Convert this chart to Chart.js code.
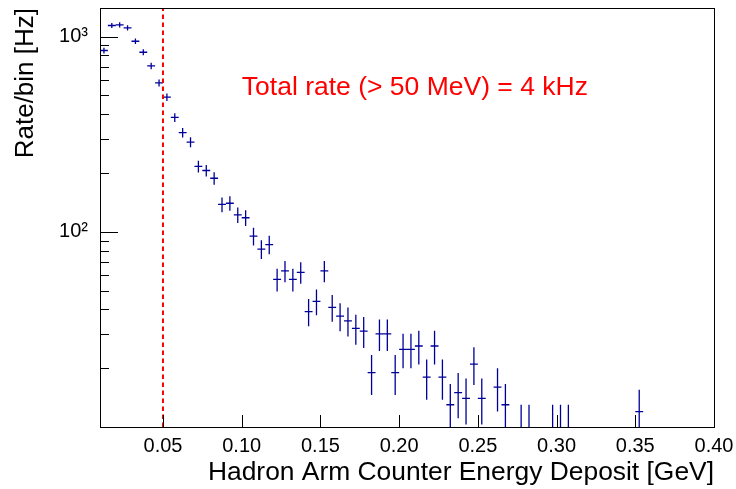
<!DOCTYPE html>
<html>
<head>
<meta charset="utf-8">
<script src="https://cdn.jsdelivr.net/npm/chart.js@4.4.1/dist/chart.umd.min.js"></script>
<style>
  html, body { margin: 0; padding: 0; background: #fff; }
  #wrap { width: 736px; height: 489px; }
</style>
</head>
<body>
<div id="wrap"><canvas id="hist"></canvas></div>
<script>
// bin centres [GeV], bin width 0.005
const binCenters = [
    0.0125, 0.0175, 0.0225, 0.0275, 0.0325, 0.0375, 0.0425, 0.0475,
    0.0525, 0.0575, 0.0625, 0.0675, 0.0725, 0.0775, 0.0825, 0.0875,
    0.0925, 0.0975, 0.1025, 0.1075, 0.1125, 0.1175, 0.1225, 0.1275,
    0.1325, 0.1375, 0.1425, 0.1475, 0.1525, 0.1575, 0.1625, 0.1675,
    0.1725, 0.1775, 0.1825, 0.1875, 0.1925, 0.1975, 0.2025, 0.2075,
    0.2125, 0.2175, 0.2225, 0.2275, 0.2325, 0.2375, 0.2425, 0.2475,
    0.2525, 0.2625, 0.2675, 0.2775, 0.2825, 0.2975, 0.3025, 0.3075,
    0.3525,
];
const rates = [
    848, 1139, 1148, 1108, 946, 831, 707, 579,
    489, 385, 322, 288, 216, 206, 188, 138,
    140, 122, 118, 95, 81.5, 86, 57, 63,
    57, 62, 39, 44, 63, 41, 37, 35,
    32, 31, 19, 30, 30, 19, 25, 25,
    26, 18, 26, 18, 13, 15, 14, 21,
    14, 16, 13, 9.8, 9.8, 9.8, 9.8, 9.8,
    12,
];
const rateErrors = [
    29, 34, 34, 33, 31, 29, 27, 24,
    22, 20, 18, 17, 15, 14, 14, 12,
    12, 11, 11, 10, 9, 9.3, 7.6, 7.9,
    7.6, 7.9, 6.2, 6.6, 7.9, 6.4, 6.1, 5.9,
    5.6, 5.6, 4.4, 5.5, 5.5, 4.4, 5, 5,
    5.1, 4.2, 5.1, 4.2, 3.6, 3.9, 3.7, 4.6,
    3.7, 4, 3.6, 3.2, 3.2, 3.2, 3.2, 3.2,
    3.5,
];
const halfBin = 0.0025;

const xTicks = [0.05, 0.10, 0.15, 0.20, 0.25, 0.30, 0.35, 0.40];
const yTicks = [10, 20, 30, 40, 50, 60, 70, 80, 90,
    100, 200, 300, 400, 500, 600, 700, 800, 900, 1000];
const yLabels = { 100: '10²', 1000: '10³' };

const cutValue = 0.05;
const note = 'Total rate (> 50 MeV) = 4 kHz';
const notePos = { x: 0.21, y: 500 };

const points = binCenters.map((x, i) => ({ x: x, y: rates[i], err: rateErrors[i] }));

const rootStyle = {
    id: 'rootStyle',
    afterDatasetsDraw(chart) {
        const { ctx, chartArea: a, scales: { x, y } } = chart;
        ctx.save();
        ctx.beginPath();
        ctx.rect(a.left, a.top, a.right - a.left, a.bottom - a.top);
        ctx.clip();

        // error bars
        ctx.strokeStyle = '#000099';
        ctx.lineWidth = 1.3;
        ctx.beginPath();
        points.forEach((p) => {
            const px = x.getPixelForValue(p.x);
            const py = y.getPixelForValue(p.y);
            const lo = p.y - p.err > 0 ? y.getPixelForValue(p.y - p.err) : a.bottom + 5;
            const hi = y.getPixelForValue(p.y + p.err);
            ctx.moveTo(x.getPixelForValue(p.x - halfBin), py);
            ctx.lineTo(x.getPixelForValue(p.x + halfBin), py);
            ctx.moveTo(px, lo);
            ctx.lineTo(px, hi);
        });
        ctx.stroke();

        // cut line
        const cx = x.getPixelForValue(cutValue);
        ctx.strokeStyle = '#ff0000';
        ctx.lineWidth = 2;
        ctx.setLineDash([4.5, 3.5]);
        ctx.beginPath();
        ctx.moveTo(cx, a.bottom);
        ctx.lineTo(cx, a.top);
        ctx.stroke();
        ctx.setLineDash([]);
        ctx.restore();

        // ticks inside the frame
        ctx.save();
        ctx.strokeStyle = '#000';
        ctx.lineWidth = 1;
        ctx.beginPath();
        y.ticks.forEach((t) => {
            const py = Math.round(y.getPixelForValue(t.value)) + 0.5;
            const len = yLabels[t.value] ? 18 : 9;
            ctx.moveTo(a.left, py);
            ctx.lineTo(a.left + len, py);
        });
        x.ticks.forEach((t) => {
            const px = Math.round(x.getPixelForValue(t.value)) + 0.5;
            ctx.moveTo(px, a.bottom);
            ctx.lineTo(px, a.bottom - 12);
        });
        ctx.stroke();
        ctx.strokeRect(Math.round(a.left) + 0.5, Math.round(a.top) + 0.5,
            Math.round(a.right - a.left), Math.round(a.bottom - a.top));

        // annotation
        ctx.fillStyle = '#ff0000';
        ctx.font = '26.5px "Liberation Sans", Arial, sans-serif';
        ctx.textAlign = 'center';
        ctx.textBaseline = 'alphabetic';
        ctx.fillText(note, x.getPixelForValue(notePos.x), y.getPixelForValue(notePos.y));
        ctx.restore();
    },
};

const font = { family: '"Liberation Sans", Arial, sans-serif' };

new Chart(document.getElementById('hist').getContext('2d'), {
    type: 'scatter',
    data: {
        datasets: [{
            data: points,
            pointRadius: 0,
            pointHoverRadius: 0,
            showLine: false,
        }],
    },
    plugins: [rootStyle],
    options: {
        responsive: true,
        maintainAspectRatio: false,
        animation: false,
        events: [],
        layout: { padding: { top: 8, right: 22, left: 0, bottom: 0 } },
        plugins: { legend: { display: false }, tooltip: { enabled: false } },
        scales: {
            x: {
                type: 'linear',
                min: 0.01,
                max: 0.40,
                afterBuildTicks: (s) => { s.ticks = xTicks.map((v) => ({ value: v })); },
                afterFit: (s) => {
                    s.height = 62;
                    s.paddingLeft = 0;
                    s.paddingRight = 0;
                },
                grid: { display: false, drawTicks: false },
                border: { display: false },
                ticks: {
                    autoSkip: false,
                    maxRotation: 0,
                    padding: 7,
                    color: '#000',
                    font: { ...font, size: 20 },
                    callback: (v) => Number(v).toFixed(2),
                },
                title: {
                    display: true,
                    text: 'Hadron Arm Counter Energy Deposit [GeV]',
                    align: 'end',
                    color: '#000',
                    font: { ...font, size: 26.4 },
                    padding: { top: 0, bottom: 0 },
                },
            },
            y: {
                type: 'logarithmic',
                min: 10,
                max: 1400,
                afterBuildTicks: (s) => { s.ticks = yTicks.map((v) => ({ value: v })); },
                afterFit: (s) => {
                    s.width = 100;
                    s.paddingTop = 0;
                    s.paddingBottom = 0;
                },
                grid: { display: false, drawTicks: false },
                border: { display: false },
                ticks: {
                    autoSkip: false,
                    padding: 12,
                    color: '#000',
                    font: { ...font, size: 20 },
                    callback: (v) => yLabels[v] || '',
                },
                title: {
                    display: true,
                    text: 'Rate/bin [Hz]',
                    align: 'end',
                    color: '#000',
                    font: { ...font, size: 26 },
                    padding: { top: 10, bottom: 0 },
                },
            },
        },
    },
});
</script>
</body>
</html>
